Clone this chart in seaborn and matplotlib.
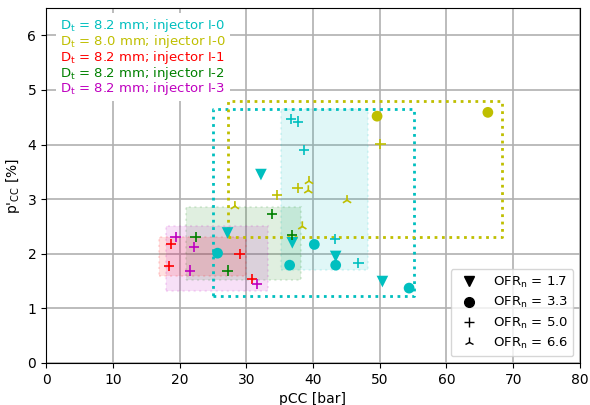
import matplotlib
matplotlib.use('Agg')
import matplotlib.pyplot as plt
import matplotlib.patches as patches
from matplotlib.lines import Line2D
import seaborn as sns
import pandas as pd

# --- data ---
groups = ['I-0 (8.2)', 'I-0 (8.0)', 'I-1', 'I-2', 'I-3']
labels = [r'D$_\mathrm{t}$ = 8.2 mm; injector I-0',
          r'D$_\mathrm{t}$ = 8.0 mm; injector I-0',
          r'D$_\mathrm{t}$ = 8.2 mm; injector I-1',
          r'D$_\mathrm{t}$ = 8.2 mm; injector I-2',
          r'D$_\mathrm{t}$ = 8.2 mm; injector I-3']
colors = ['c', 'y', 'r', 'g', 'm']

ofr_values = [1.7, 3.3, 5.0, 6.6]
ofr_markers = ['v', 'o', '+', '2']

# (group, OFR, pCC, p'CC)
pts_group = ['I-0 (8.2)'] * 15 + ['I-0 (8.0)'] * 10 + ['I-1'] * 4 + ['I-2'] * 4 + ['I-3'] * 4
pts_ofr = ([1.7] * 5 + [3.3] * 5 + [5.0] * 5
           + [3.3] * 2 + [5.0] * 3 + [6.6] * 5
           + [5.0] * 4 + [5.0] * 4 + [5.0] * 4)
pts_x = [32.2, 27.2, 36.9, 43.4, 50.4,
         25.7, 36.5, 40.2, 43.4, 54.4,
         36.7, 37.8, 38.7, 43.3, 46.8,
         49.6, 66.2,
         50.1, 37.7, 34.6,
         39.4, 39.3, 45.1, 28.3, 38.4,
         18.7, 18.4, 29.0, 30.9,
         33.9, 36.9, 22.4, 27.2,
         19.4, 22.2, 21.6, 31.6]
pts_y = [3.45, 2.38, 2.20, 1.95, 1.49,
         2.01, 1.79, 2.17, 1.79, 1.37,
         4.47, 4.42, 3.90, 2.27, 1.83,
         4.52, 4.59,
         4.01, 3.21, 3.07,
         3.33, 3.16, 2.98, 2.87, 2.50,
         2.18, 1.77, 2.00, 1.54,
         2.73, 2.34, 2.30, 1.69,
         2.31, 2.12, 1.69, 1.44]

# dotted outline regions (x0, x1, y0, y1)
box_color = ['c', 'y']
box_x0 = [25.0, 27.2]
box_x1 = [55.2, 68.3]
box_y0 = [1.22, 2.31]
box_y1 = [4.65, 4.80]

# shaded regions
shade_color = ['c', 'g', 'm', 'r']
shade_x0 = [35.2, 21.0, 18.0, 17.0]
shade_x1 = [48.2, 38.2, 33.2, 30.0]
shade_y0 = [1.71, 1.51, 1.31, 1.60]
shade_y1 = [4.65, 2.86, 2.51, 2.31]

df = pd.DataFrame({'grp': pts_group, 'ofr': pts_ofr, 'pcc': pts_x, 'dp': pts_y})
palette = dict(zip(groups, colors))

fig, ax = plt.subplots(figsize=(5.9, 4.05), dpi=100)
fig.subplots_adjust(left=0.078, right=0.983, top=0.980, bottom=0.104)

for c, x0, x1, y0, y1 in zip(shade_color, shade_x0, shade_x1, shade_y0, shade_y1):
    ax.add_patch(patches.Rectangle((x0, y0), x1 - x0, y1 - y0, facecolor=c, alpha=0.12,
                                   edgecolor=c, linestyle=':', linewidth=1.5, zorder=1))
for c, x0, x1, y0, y1 in zip(box_color, box_x0, box_x1, box_y0, box_y1):
    ax.plot([x0, x1, x1, x0, x0], [y0, y0, y1, y1, y0], color=c, linestyle=':',
            linewidth=2, zorder=2)

sizes = {'v': 70, 'o': 60, '+': 55, '2': 55}
for ofr, mk in zip(ofr_values, ofr_markers):
    sub = df[df['ofr'] == ofr]
    sns.scatterplot(data=sub, x='pcc', y='dp', hue='grp', palette=palette, marker=mk,
                    s=sizes[mk], linewidth=1.2 if mk in '+2' else 0, legend=False,
                    ax=ax, zorder=3)

ax.set_xlim(0, 80)
ax.set_ylim(0, 6.5)
ax.set_xticks(range(0, 81, 10))
ax.set_yticks(range(0, 7))
ax.grid(True, color='#b0b0b0', linewidth=1.2)
ax.set_axisbelow(True)
ax.set_xlabel('pCC [bar]')
ax.set_ylabel(r"p$'_\mathrm{CC}$ [%]")

# coloured text legend (upper left), no handles
blank = [Line2D([], [], linestyle='none') for _ in labels]
leg1 = ax.legend(blank, labels, loc='upper left', bbox_to_anchor=(0.019, 0.987),
                 borderaxespad=0, fontsize=9.5, handlelength=0, handletextpad=0,
                 labelspacing=-0.08, borderpad=0.3,
                 framealpha=1, edgecolor='none', fancybox=False)
for t, c in zip(leg1.get_texts(), colors):
    t.set_color(c)
leg1.set_zorder(5)
ax.add_artist(leg1)

handles = [Line2D([], [], linestyle='none', marker=mk, color='k', markersize=7)
           for mk in ofr_markers]
leg2 = ax.legend(handles, [r'OFR$_\mathrm{n}$ = %.1f' % v for v in ofr_values],
                 loc='lower right', fontsize=9.5, labelspacing=0.4)
leg2.set_zorder(5)

plt.savefig('out.png')
